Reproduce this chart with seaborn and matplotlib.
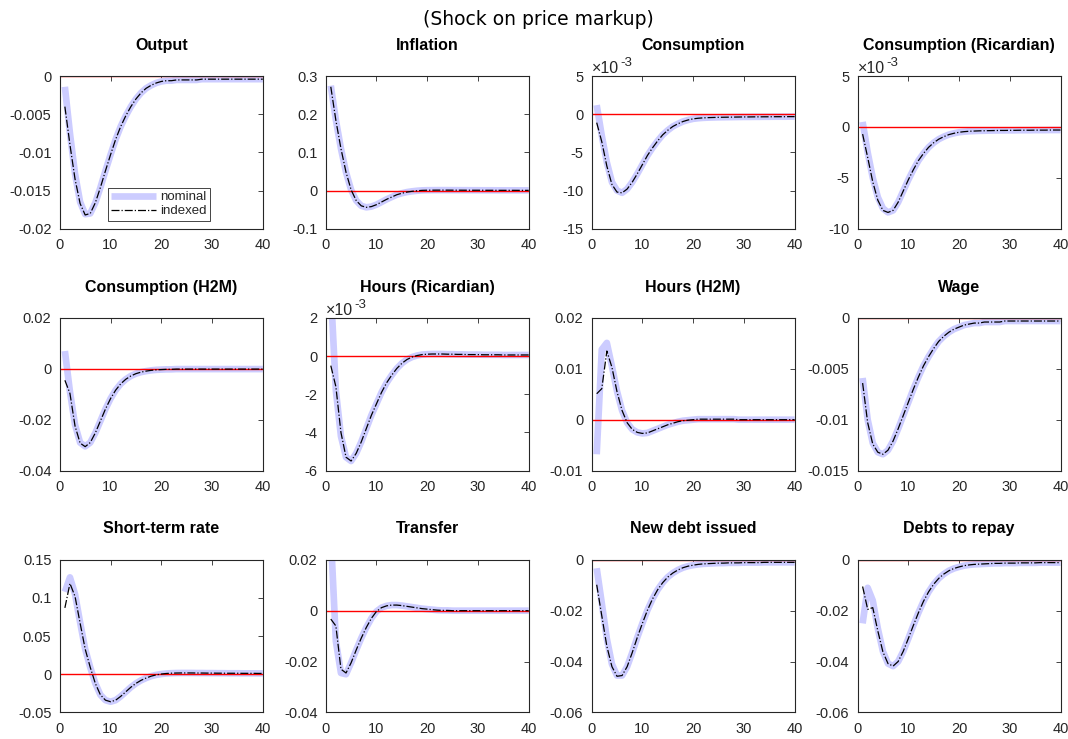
import matplotlib
matplotlib.use("Agg")
import matplotlib.pyplot as plt
from matplotlib.ticker import FuncFormatter, FixedLocator
import pandas as pd
import seaborn as sns

# ---------------------------------------------------------------------------
# Impulse responses to a price-markup shock, periods 1..40
# ---------------------------------------------------------------------------
periods = list(range(1, 41))

titles = ["Output", "Inflation", "Consumption", "Consumption (Ricardian)",
          "Consumption (H2M)", "Hours (Ricardian)", "Hours (H2M)", "Wage",
          "Short-term rate", "Transfer", "New debt issued", "Debts to repay"]

series_labels = ["nominal", "indexed"]
x_ticks = [0, 10, 20, 30, 40]

output_nominal = [
    -0.0014, -0.0075, -0.0128, -0.0165, -0.0181, -0.0180, -0.0166, -0.0146, -0.0124, -0.0103,
    -0.0083, -0.0066, -0.0052, -0.0040, -0.0030, -0.0022, -0.0016, -0.0012, -0.0009, -0.0007,
    -0.0006, -0.0006, -0.0005, -0.0005, -0.0005, -0.0005, -0.0005, -0.0004, -0.0004, -0.0004,
    -0.0004, -0.0004, -0.0004, -0.0004, -0.0004, -0.0004, -0.0004, -0.0004, -0.0004, -0.0004]
output_indexed = [
    -0.0040, -0.0090, -0.0135, -0.0167, -0.0182, -0.0180, -0.0166, -0.0146, -0.0124, -0.0103,
    -0.0083, -0.0066, -0.0052, -0.0040, -0.0030, -0.0022, -0.0016, -0.0012, -0.0009, -0.0007,
    -0.0006, -0.0006, -0.0005, -0.0005, -0.0005, -0.0005, -0.0005, -0.0004, -0.0004, -0.0004,
    -0.0004, -0.0004, -0.0004, -0.0004, -0.0004, -0.0004, -0.0004, -0.0004, -0.0004, -0.0004]

inflation_nominal = [
    0.275, 0.185, 0.110, 0.048, 0.002, -0.026, -0.040, -0.044, -0.042, -0.037,
    -0.030, -0.023, -0.017, -0.011, -0.007, -0.004, -0.002, -0.0005, 0.0005, 0.0009,
    0.0010, 0.0011, 0.0011, 0.0011, 0.0010, 0.0010, 0.0009, 0.0009, 0.0008, 0.0008,
    0.0007, 0.0007, 0.0007, 0.0006, 0.0006, 0.0006, 0.0006, 0.0005, 0.0005, 0.0005]
inflation_indexed = [
    0.272, 0.184, 0.110, 0.048, 0.002, -0.026, -0.040, -0.044, -0.042, -0.037,
    -0.030, -0.023, -0.017, -0.011, -0.007, -0.004, -0.002, -0.0005, 0.0005, 0.0009,
    0.0010, 0.0011, 0.0011, 0.0011, 0.0010, 0.0010, 0.0009, 0.0009, 0.0008, 0.0008,
    0.0007, 0.0007, 0.0007, 0.0006, 0.0006, 0.0006, 0.0006, 0.0005, 0.0005, 0.0005]

consumption_nominal = [
    0.0012, -0.0028, -0.0063, -0.0089, -0.0100, -0.0103, -0.0098, -0.0089, -0.0078, -0.0066,
    -0.0054, -0.0044, -0.0035, -0.0027, -0.0021, -0.0016, -0.00125, -0.00095, -0.00075, -0.0006,
    -0.00052, -0.00047, -0.00044, -0.00042, -0.0004, -0.00039, -0.00038, -0.00037, -0.00036, -0.00035,
    -0.00035, -0.00034, -0.00034, -0.00033, -0.00033, -0.00032, -0.00032, -0.00032, -0.00031, -0.00031]
consumption_indexed = [
    -0.0011, -0.0036, -0.0068, -0.0092, -0.0102, -0.0103, -0.0098, -0.0089, -0.0078, -0.0066,
    -0.0054, -0.0044, -0.0035, -0.0027, -0.0021, -0.0016, -0.00125, -0.00095, -0.00075, -0.0006,
    -0.00052, -0.00047, -0.00044, -0.00042, -0.0004, -0.00039, -0.00038, -0.00037, -0.00036, -0.00035,
    -0.00035, -0.00034, -0.00034, -0.00033, -0.00033, -0.00032, -0.00032, -0.00032, -0.00031, -0.00031]

cons_ricardian_nominal = [
    0.0005, -0.0025, -0.0050, -0.0069, -0.0080, -0.0084, -0.0082, -0.0074, -0.0063, -0.0052,
    -0.0042, -0.0033, -0.0026, -0.0020, -0.00155, -0.0012, -0.00095, -0.00075, -0.00062, -0.00052,
    -0.00046, -0.00042, -0.0004, -0.00038, -0.00037, -0.00036, -0.00035, -0.00034, -0.00034, -0.00033,
    -0.00033, -0.00032, -0.00032, -0.00032, -0.00031, -0.00031, -0.00031, -0.0003, -0.0003, -0.0003]
cons_ricardian_indexed = [
    -0.0007, -0.0030, -0.0054, -0.0072, -0.0082, -0.0084, -0.0082, -0.0074, -0.0063, -0.0052,
    -0.0042, -0.0033, -0.0026, -0.0020, -0.00155, -0.0012, -0.00095, -0.00075, -0.00062, -0.00052,
    -0.00046, -0.00042, -0.0004, -0.00038, -0.00037, -0.00036, -0.00035, -0.00034, -0.00034, -0.00033,
    -0.00033, -0.00032, -0.00032, -0.00032, -0.00031, -0.00031, -0.00031, -0.0003, -0.0003, -0.0003]

cons_h2m_nominal = [
    0.0070, -0.0090, -0.0220, -0.0290, -0.0305, -0.0290, -0.0252, -0.0205, -0.0158, -0.0117,
    -0.0084, -0.0059, -0.0041, -0.0028, -0.0019, -0.0013, -0.0009, -0.0006, -0.0004, -0.0003,
    -0.0002, -0.0002, -0.0001, -0.0001, -0.0001, -0.0001, -0.0001, -0.0001, -0.0001, -0.0001,
    -0.0001, -0.0001, -0.0001, -0.0001, -0.0001, -0.0001, -0.0001, -0.0001, -0.0001, -0.0001]
cons_h2m_indexed = [
    -0.0045, -0.0097, -0.0225, -0.0292, -0.0306, -0.0290, -0.0252, -0.0205, -0.0158, -0.0117,
    -0.0084, -0.0059, -0.0041, -0.0028, -0.0019, -0.0013, -0.0009, -0.0006, -0.0004, -0.0003,
    -0.0002, -0.0002, -0.0001, -0.0001, -0.0001, -0.0001, -0.0001, -0.0001, -0.0001, -0.0001,
    -0.0001, -0.0001, -0.0001, -0.0001, -0.0001, -0.0001, -0.0001, -0.0001, -0.0001, -0.0001]

hours_ricardian_nominal = [
    0.0035, -0.0018, -0.0042, -0.0053, -0.0055, -0.0051, -0.0045, -0.0038, -0.0031, -0.0025,
    -0.0019, -0.0014, -0.0010, -0.00065, -0.00038, -0.00018, -0.00005, 0.00003, 0.00008, 0.0001,
    0.00011, 0.00011, 0.00011, 0.0001, 0.0001, 0.00009, 0.00009, 0.00008, 0.00008, 0.00008,
    0.00007, 0.00007, 0.00007, 0.00007, 0.00006, 0.00006, 0.00006, 0.00006, 0.00006, 0.00006]
hours_ricardian_indexed = [
    -0.0005, -0.0016, -0.0040, -0.0053, -0.0055, -0.0051, -0.0045, -0.0038, -0.0031, -0.0025,
    -0.0019, -0.0014, -0.0010, -0.00065, -0.00038, -0.00018, -0.00005, 0.00003, 0.00008, 0.0001,
    0.00011, 0.00011, 0.00011, 0.0001, 0.0001, 0.00009, 0.00009, 0.00008, 0.00008, 0.00008,
    0.00007, 0.00007, 0.00007, 0.00007, 0.00006, 0.00006, 0.00006, 0.00006, 0.00006, 0.00006]

hours_h2m_nominal = [
    -0.0068, 0.0138, 0.0151, 0.0105, 0.0056, 0.0018, -0.0006, -0.0019, -0.0025, -0.0027,
    -0.0026, -0.0022, -0.0018, -0.0014, -0.0010, -0.0007, -0.0004, -0.0002, -0.0001, 0.0,
    0.0001, 0.0001, 0.0001, 0.0001, 0.0001, 0.0001, 0.0001, 0.0001, 0.0, 0.0,
    0.0, 0.0, 0.0, 0.0, 0.0, 0.0, 0.0, 0.0, 0.0, 0.0]
hours_h2m_indexed = [
    0.0051, 0.0061, 0.0135, 0.0103, 0.0055, 0.0018, -0.0006, -0.0019, -0.0025, -0.0027,
    -0.0026, -0.0022, -0.0018, -0.0014, -0.0010, -0.0007, -0.0004, -0.0002, -0.0001, 0.0,
    0.0001, 0.0001, 0.0001, 0.0001, 0.0001, 0.0001, 0.0001, 0.0001, 0.0, 0.0,
    0.0, 0.0, 0.0, 0.0, 0.0, 0.0, 0.0, 0.0, 0.0, 0.0]

wage_nominal = [
    -0.0059, -0.0100, -0.0123, -0.0132, -0.0134, -0.0130, -0.0121, -0.0109, -0.0096, -0.0083,
    -0.0070, -0.0058, -0.0047, -0.0038, -0.0030, -0.0023, -0.0018, -0.0014, -0.0011, -0.0009,
    -0.0007, -0.0006, -0.0005, -0.0005, -0.0004, -0.0004, -0.0004, -0.0004, -0.0003, -0.0003,
    -0.0003, -0.0003, -0.0003, -0.0003, -0.0003, -0.0003, -0.0003, -0.0003, -0.0003, -0.0003]
wage_indexed = [
    -0.0064, -0.0103, -0.0124, -0.0132, -0.0134, -0.0130, -0.0121, -0.0109, -0.0096, -0.0083,
    -0.0070, -0.0058, -0.0047, -0.0038, -0.0030, -0.0023, -0.0018, -0.0014, -0.0011, -0.0009,
    -0.0007, -0.0006, -0.0005, -0.0005, -0.0004, -0.0004, -0.0004, -0.0004, -0.0003, -0.0003,
    -0.0003, -0.0003, -0.0003, -0.0003, -0.0003, -0.0003, -0.0003, -0.0003, -0.0003, -0.0003]

rate_nominal = [
    0.108, 0.127, 0.105, 0.068, 0.033, 0.009, -0.012, -0.027, -0.034, -0.036,
    -0.034, -0.029, -0.023, -0.017, -0.012, -0.008, -0.005, -0.0025, -0.0008, 0.0003,
    0.0010, 0.0014, 0.0016, 0.0017, 0.0017, 0.0017, 0.0016, 0.0016, 0.0015, 0.0015,
    0.0014, 0.0014, 0.0013, 0.0013, 0.0013, 0.0012, 0.0012, 0.0012, 0.0011, 0.0011]
rate_indexed = [
    0.087, 0.119, 0.102, 0.067, 0.033, 0.009, -0.012, -0.027, -0.034, -0.036,
    -0.034, -0.029, -0.023, -0.017, -0.012, -0.008, -0.005, -0.0025, -0.0008, 0.0003,
    0.0010, 0.0014, 0.0016, 0.0017, 0.0017, 0.0017, 0.0016, 0.0016, 0.0015, 0.0015,
    0.0014, 0.0014, 0.0013, 0.0013, 0.0013, 0.0012, 0.0012, 0.0012, 0.0011, 0.0011]

transfer_nominal = [
    0.030, -0.012, -0.0245, -0.0250, -0.0205, -0.0155, -0.0108, -0.0066, -0.0030, -0.0003,
    0.0012, 0.0019, 0.0022, 0.0022, 0.0020, 0.0017, 0.0014, 0.0011, 0.0008, 0.0006,
    0.0004, 0.0002, 0.0001, 0.0001, 0.0, 0.0, 0.0, 0.0, 0.0, 0.0,
    0.0, 0.0, 0.0, 0.0, 0.0, 0.0, 0.0, 0.0, 0.0, 0.0]
transfer_indexed = [
    -0.0033, -0.0060, -0.0230, -0.0245, -0.0205, -0.0155, -0.0108, -0.0066, -0.0030, -0.0003,
    0.0012, 0.0019, 0.0022, 0.0022, 0.0020, 0.0017, 0.0014, 0.0011, 0.0008, 0.0006,
    0.0004, 0.0002, 0.0001, 0.0001, 0.0, 0.0, 0.0, 0.0, 0.0, 0.0,
    0.0, 0.0, 0.0, 0.0, 0.0, 0.0, 0.0, 0.0, 0.0, 0.0]

new_debt_nominal = [
    -0.0033, -0.0170, -0.0310, -0.0410, -0.0455, -0.0455, -0.0420, -0.0365, -0.0305, -0.0250,
    -0.0198, -0.0154, -0.0118, -0.0090, -0.0068, -0.0052, -0.0040, -0.0031, -0.0025, -0.0021,
    -0.0018, -0.0016, -0.0015, -0.0014, -0.0013, -0.0013, -0.0012, -0.0012, -0.0012, -0.0011,
    -0.0011, -0.0011, -0.0011, -0.0010, -0.0010, -0.0010, -0.0010, -0.0010, -0.0010, -0.0010]
new_debt_indexed = [
    -0.0098, -0.0220, -0.0340, -0.0420, -0.0458, -0.0455, -0.0420, -0.0365, -0.0305, -0.0250,
    -0.0198, -0.0154, -0.0118, -0.0090, -0.0068, -0.0052, -0.0040, -0.0031, -0.0025, -0.0021,
    -0.0018, -0.0016, -0.0015, -0.0014, -0.0013, -0.0013, -0.0012, -0.0012, -0.0012, -0.0011,
    -0.0011, -0.0011, -0.0011, -0.0010, -0.0010, -0.0010, -0.0010, -0.0010, -0.0010, -0.0010]

repay_nominal = [
    -0.0250, -0.0110, -0.0160, -0.0270, -0.0360, -0.0408, -0.0418, -0.0400, -0.0360, -0.0310,
    -0.0258, -0.0208, -0.0163, -0.0126, -0.0096, -0.0073, -0.0056, -0.0043, -0.0034, -0.0028,
    -0.0023, -0.0020, -0.0018, -0.0017, -0.0016, -0.0015, -0.0014, -0.0014, -0.0013, -0.0013,
    -0.0013, -0.0012, -0.0012, -0.0012, -0.0012, -0.0011, -0.0011, -0.0011, -0.0011, -0.0011]
repay_indexed = [
    -0.0105, -0.0195, -0.0188, -0.0280, -0.0362, -0.0408, -0.0418, -0.0400, -0.0360, -0.0310,
    -0.0258, -0.0208, -0.0163, -0.0126, -0.0096, -0.0073, -0.0056, -0.0043, -0.0034, -0.0028,
    -0.0023, -0.0020, -0.0018, -0.0017, -0.0016, -0.0015, -0.0014, -0.0014, -0.0013, -0.0013,
    -0.0013, -0.0012, -0.0012, -0.0012, -0.0012, -0.0011, -0.0011, -0.0011, -0.0011, -0.0011]

# y tick values for each panel
y_ticks = [
    [-0.02, -0.015, -0.01, -0.005, 0.0],
    [-0.1, 0.0, 0.1, 0.2, 0.3],
    [-0.015, -0.01, -0.005, 0.0, 0.005],
    [-0.01, -0.005, 0.0, 0.005],
    [-0.04, -0.02, 0.0, 0.02],
    [-0.006, -0.004, -0.002, 0.0, 0.002],
    [-0.01, 0.0, 0.01, 0.02],
    [-0.015, -0.01, -0.005, 0.0],
    [-0.05, 0.0, 0.05, 0.1, 0.15],
    [-0.04, -0.02, 0.0, 0.02],
    [-0.06, -0.04, -0.02, 0.0],
    [-0.06, -0.04, -0.02, 0.0],
]
# panels whose axis is labelled in units of 10^-3
milli_panels = {"Consumption", "Consumption (Ricardian)", "Hours (Ricardian)"}

nominal_series = [output_nominal, inflation_nominal, consumption_nominal, cons_ricardian_nominal,
                  cons_h2m_nominal, hours_ricardian_nominal, hours_h2m_nominal, wage_nominal,
                  rate_nominal, transfer_nominal, new_debt_nominal, repay_nominal]
indexed_series = [output_indexed, inflation_indexed, consumption_indexed, cons_ricardian_indexed,
                  cons_h2m_indexed, hours_ricardian_indexed, hours_h2m_indexed, wage_indexed,
                  rate_indexed, transfer_indexed, new_debt_indexed, repay_indexed]

# ---------------------------------------------------------------------------
# Style
# ---------------------------------------------------------------------------
sns.set_style("white")
plt.rcParams["font.family"] = ["Liberation Sans", "DejaVu Sans"]
plt.rcParams["axes.unicode_minus"] = False

NOMINAL_BLUE = (0.80, 0.80, 1.0)
AXIS_GREY = "0.15"

fig, axes = plt.subplots(3, 4, figsize=(10.68, 7.39), dpi=100)
fig.subplots_adjust(left=0.056, right=0.993, top=0.897, bottom=0.036,
                    wspace=0.31, hspace=0.585)


def tick_fmt(scale):
    return FuncFormatter(lambda v, pos: f"{v / scale:g}")


for i, ax in enumerate(axes.flat):
    title = titles[i]
    df = pd.DataFrame({"period": periods,
                       "nominal": nominal_series[i],
                       "indexed": indexed_series[i]})

    sns.lineplot(data=df, x="period", y="nominal", ax=ax, color=NOMINAL_BLUE,
                 linewidth=4.8, legend=False, solid_capstyle="butt")
    ax.axhline(0, color="red", linewidth=1.0)
    sns.lineplot(data=df, x="period", y="indexed", ax=ax, color="black",
                 linewidth=0.9, linestyle="-.", legend=False)

    ax.set_xlim(0, 40)
    ax.set_ylim(y_ticks[i][0], y_ticks[i][-1])
    ax.xaxis.set_major_locator(FixedLocator(x_ticks))
    ax.yaxis.set_major_locator(FixedLocator(y_ticks[i]))
    ax.xaxis.set_major_formatter(tick_fmt(1))
    scale = 1e-3 if title in milli_panels else 1
    ax.yaxis.set_major_formatter(tick_fmt(scale))
    if scale != 1:
        # exponent label in the upper-left corner: "×10" with a raised "-3"
        ax.annotate("\u00d710", xy=(0, 1), xycoords="axes fraction",
                    xytext=(0, 2), textcoords="offset points",
                    ha="left", va="baseline", fontsize=11.5, color=AXIS_GREY)
        ax.annotate("-3", xy=(0, 1), xycoords="axes fraction",
                    xytext=(20.5, 7.5), textcoords="offset points",
                    ha="left", va="baseline", fontsize=9.5, color=AXIS_GREY)

    ax.set_xlabel("")
    ax.set_ylabel("")
    ax.set_title(title, fontsize=11.5, fontweight="bold", pad=19, color="black")
    ax.tick_params(direction="in", length=3.5, width=0.6, top=True, right=True,
                   labelsize=10.5, colors=AXIS_GREY)
    ax.tick_params(axis="x", pad=7)
    ax.tick_params(axis="y", pad=6)
    for sp in ax.spines.values():
        sp.set_color(AXIS_GREY)
        sp.set_linewidth(0.8)

    if i == 0:
        lines = ax.get_lines()
        leg = ax.legend([lines[0], lines[2]], series_labels, loc="lower left",
                        bbox_to_anchor=(0.238, 0.052), fontsize=9.5,
                        handlelength=3.4, handletextpad=0.3, borderpad=0.25,
                        labelspacing=0.15, borderaxespad=0, fancybox=False,
                        framealpha=1, edgecolor=AXIS_GREY)
        leg.get_frame().set_linewidth(0.6)

fig.text(0.504, 0.974, "(Shock on price markup)", ha="center", va="center",
         fontsize=13.5, family="DejaVu Sans", color="black")

fig.savefig("out.png", dpi=100)
